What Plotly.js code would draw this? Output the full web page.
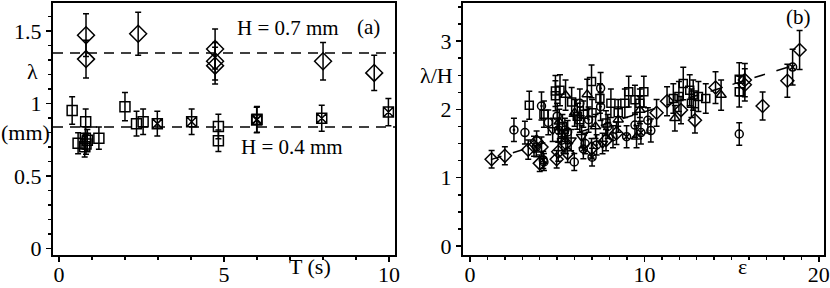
<!DOCTYPE html>
<html>
<head>
<meta charset="utf-8">
<script src="https://cdn.plot.ly/plotly-3.0.1.min.js"></script>
<style>html,body{margin:0;padding:0;background:#fff;}#chart{width:830px;height:288px;}</style>
</head>
<body>
<div id="chart"></div>
<script>
// ---------- Panel (a): lambda (mm) vs T (s) ----------
const diamondT      = [0.82, 0.82, 2.4, 4.73, 4.73, 4.73, 8.0, 9.55];
const diamondLambda = [1.47, 1.305, 1.48, 1.375, 1.29, 1.26, 1.29, 1.21];

const squareT       = [0.4, 0.81, 0.58, 0.78, 0.82, 0.86, 0.8, 1.21, 2.0, 2.35, 2.55, 4.83, 4.83];
const squareLambda  = [0.95, 0.873, 0.724, 0.70, 0.72, 0.745, 0.76, 0.76, 0.977, 0.86, 0.873, 0.84, 0.742];

const xsquareT      = [2.98, 4.02, 5.99, 6.0, 7.96, 9.98];
const xsquareLambda = [0.86, 0.873, 0.885, 0.89, 0.897, 0.94];

const refLevels = [1.347, 0.836];   // dashed reference lines (H = 0.7 mm, H = 0.4 mm)
const errPercent = 10;

// ---------- Panel (b): lambda/H vs epsilon ----------
const sqE = [3.4, 4.24, 4.9, 4.9, 5.16, 5.83, 6.15, 6.5, 6.97, 7.45, 8.08, 8.5, 8.88, 9.1, 9.46, 9.74, 9.97, 11.66, 11.98, 12.23, 12.6, 12.7, 12.8, 13.1, 13.52, 15.44, 15.44, 5.3, 6.3, 7.0, 7.8];
const sqY = [2.06, 1.93, 2.2, 2.27, 2.28, 2.11, 1.9, 1.93, 2.41, 2.16, 2.09, 1.95, 2.09, 2.26, 2.14, 2.09, 2.26, 2.16, 2.19, 2.38, 2.28, 2.09, 2.21, 2.19, 2.16, 2.44, 2.26, 1.75, 1.85, 1.95, 1.8];

const ciE = [3.15, 4.49, 5.98, 15.44, 6.6, 5.0, 7.9, 3.8];
const ciY = [1.66, 1.81, 1.23, 1.64, 1.5, 1.9, 1.75, 1.45];

const cdE = [2.52, 4.1, 5.06, 5.6, 6.3, 7.49, 7.49, 9.46, 10.2, 10.37, 4.24, 7.26, 5.44, 5.25, 6.8, 8.2];
const cdY = [1.70, 2.05, 1.70, 1.67, 2.09, 2.31, 2.04, 1.77, 1.84, 1.69, 1.23, 1.48, 1.70, 1.55, 1.85, 1.6];

const cxE = [4.2, 8.98, 9.8, 18.5, 6.5, 7.0];
const cxY = [1.26, 1.60, 1.66, 2.62, 1.42, 1.3];

const tuE = [5.48, 6.72, 9.74, 9.55, 11.75, 14.4, 5.12, 6.0, 7.2, 8.5];
const tuY = [2.21, 2.22, 1.99, 1.60, 1.87, 2.21, 1.82, 1.95, 1.75, 1.85];

const tdE = [4.74, 5.8, 6.4, 7.6];
const tdY = [1.70, 1.55, 1.60, 1.5];

const diE = [1.24, 2.0, 3.34, 3.67, 4.0, 4.1, 4.97, 5.06, 5.6, 6.97, 3.82, 5.5, 10.7, 11.3, 12.1, 12.9, 14.08, 15.76, 15.76, 16.78, 18.2, 18.9, 7.8, 8.4];
const diY = [1.27, 1.32, 1.41, 1.46, 1.21, 1.45, 1.27, 1.38, 1.36, 1.43, 1.53, 1.5, 1.95, 2.12, 1.99, 1.84, 2.32, 2.36, 2.43, 2.05, 2.42, 2.87, 1.55, 1.65];

const fitE = [1.2, 18.5];
const fitY = [1.265, 2.64];

// ---------- styling ----------
const FONT = 'Liberation Serif';
function errY(){ return {type:'percent', value:errPercent, visible:true, color:'black', thickness:1.5, width:3}; }
function pts(x, y, sym, size, xa, ya){
  return {x:x, y:y, type:'scatter', mode:'markers', xaxis:xa, yaxis:ya,
    marker:{symbol:sym, size:size, color:'black', line:{color:'black', width:1.5}},
    error_y:errY(), showlegend:false, hoverinfo:'skip'};
}

const traces = [
  pts(diamondT, diamondLambda, 'diamond-open', 13, 'x', 'y'),
  pts(squareT, squareLambda, 'square-open', 10, 'x', 'y'),
  pts(xsquareT, xsquareLambda, 'square-x-open', 10, 'x', 'y'),
  {x:fitE, y:fitY, type:'scatter', mode:'lines', xaxis:'x2', yaxis:'y2',
   line:{color:'black', width:1.5, dash:'11px,12px'}, showlegend:false, hoverinfo:'skip'},
  pts(sqE, sqY, 'square-open', 8, 'x2', 'y2'),
  pts(ciE, ciY, 'circle-open', 8, 'x2', 'y2'),
  pts(cdE, cdY, 'circle-open-dot', 8, 'x2', 'y2'),
  pts(cxE, cxY, 'circle-x-open', 8, 'x2', 'y2'),
  pts(tuE, tuY, 'triangle-up-open', 9, 'x2', 'y2'),
  pts(tdE, tdY, 'triangle-down-open', 9, 'x2', 'y2'),
  pts(diE, diY, 'diamond-open', 10, 'x2', 'y2')
];

function axis(extra){
  return Object.assign({
    showline:true, linecolor:'black', linewidth:2, mirror:true,
    ticks:'outside', ticklen:5, tickwidth:1.5, tickcolor:'black',
    showgrid:false, zeroline:false, fixedrange:true,
    tickfont:{family:FONT, size:22, color:'black'}
  }, extra);
}
function minor(d){ return {dtick:d, ticks:'outside', ticklen:3, tickwidth:1.5, tickcolor:'black', showgrid:false}; }

const shapes = refLevels.map(v => ({
  type:'line', xref:'x domain', yref:'y', x0:0, x1:1, y0:v, y1:v,
  line:{color:'black', width:1.5, dash:'10px,7px'}
}));

function ann(text, xref, x, yref, y, size){
  return {text:text, xref:xref, x:x, yref:yref, y:y, showarrow:false,
    xanchor:'center', yanchor:'middle',
    font:{family:FONT, size:size||21, color:'black'}};
}

const layout = {
  width:830, height:288,
  font:{family:FONT, size:20, color:'black'},
  margin:{l:53, r:6, t:3, b:33, pad:0},
  paper_bgcolor:'white', plot_bgcolor:'white',
  showlegend:false,
  xaxis: axis({domain:[0, 0.4436], range:[-0.18, 10.18], tick0:0, dtick:5, minor:minor(1), anchor:'y', ticklabelstandoff:-6}),
  yaxis: axis({domain:[0, 1], range:[-0.046, 1.692], tick0:0, dtick:0.5, minor:minor(0.1), anchor:'x'}),
  xaxis2: axis({domain:[0.5318, 1], range:[-0.4, 20.3], tick0:0, dtick:10, minor:minor(1), anchor:'y2', ticklabelstandoff:-6}),
  yaxis2: axis({domain:[0, 1], range:[-0.132, 3.558], tick0:0, dtick:1, minor:minor(0.25), anchor:'x2'}),
  shapes: shapes,
  annotations: [
    ann('λ', 'paper', -0.0266, 'y', 1.22, 22),
    ann('(mm)', 'paper', -0.0363, 'y', 0.80, 22),
    ann('T (s)', 'x', 7.6, 'paper', -0.0437, 22),
    ann('H = 0.7 mm', 'x', 6.94, 'y', 1.523),
    ann('(a)', 'x', 9.39, 'y', 1.526),
    ann('H = 0.4 mm', 'x', 7.05, 'y', 0.699),
    ann('λ/H', 'paper', 0.498, 'y2', 2.5, 22),
    ann('ε', 'x2', 15.6, 'paper', -0.0437, 22),
    ann('(b)', 'x2', 18.85, 'y2', 3.35)
  ]
};

Plotly.newPlot('chart', traces, layout, {displayModeBar:false, staticPlot:true});
</script>
</body>
</html>
